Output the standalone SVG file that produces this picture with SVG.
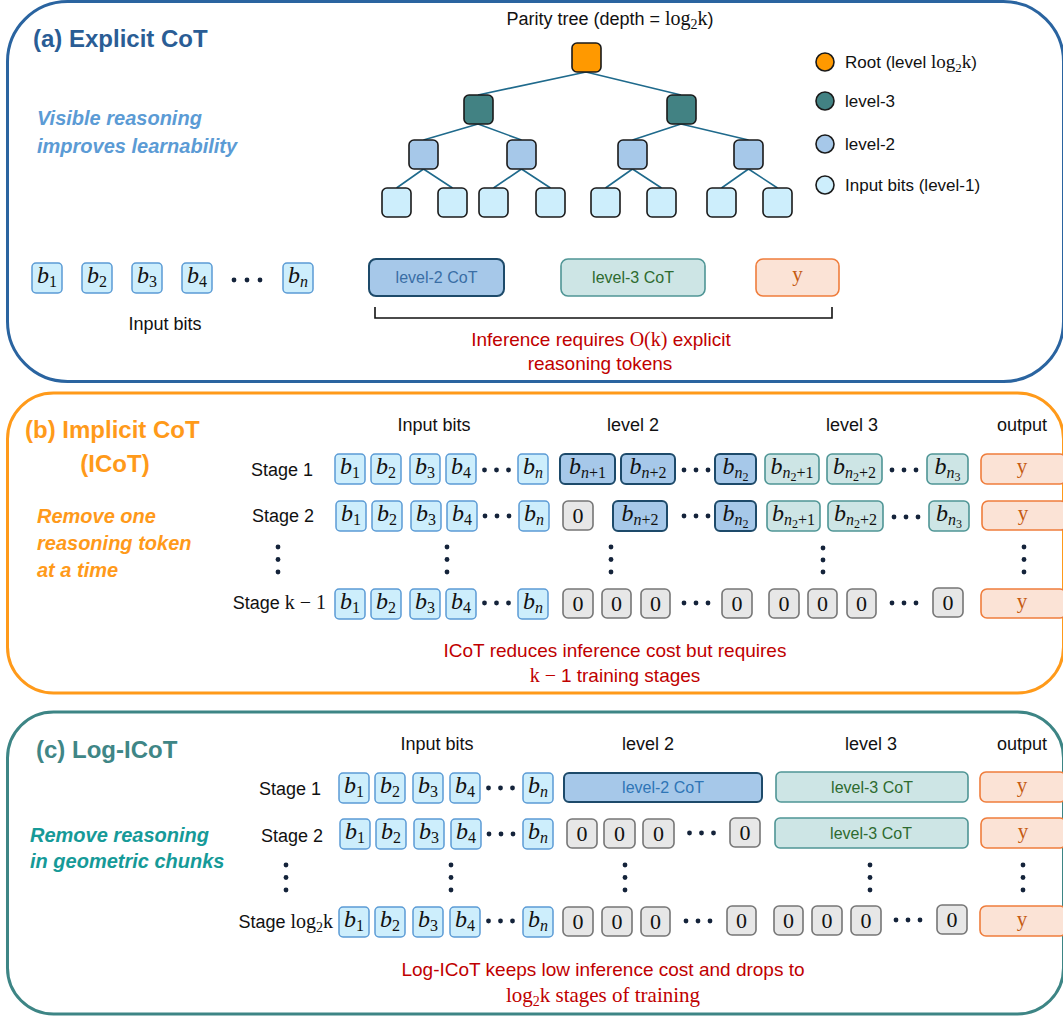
<svg xmlns="http://www.w3.org/2000/svg" width="1063" height="1016" viewBox="0 0 1063 1016">
<style>
text{font-family:"Liberation Sans",Arial,sans-serif;fill:#111}
.lbl{font-size:18px}
.stg{font-size:18px}
.ttl{font-size:24px;font-weight:bold}
.note{font-size:20px;font-weight:bold;font-style:italic}
.red{font-size:19px;fill:#c00000}
.srf{font-family:"Liberation Serif","DejaVu Serif",serif;font-style:normal}
.m{font-family:"Liberation Serif","DejaVu Serif",serif;font-style:italic;font-size:24px;fill:#111}
.si{font-size:16px;font-style:italic}
.s{font-size:16px;font-style:normal}
.ss{font-size:12px;font-style:normal}
.zt{font-family:"Liberation Serif","DejaVu Serif",serif;font-size:22px;fill:#111}
.yt{font-family:"Liberation Serif","DejaVu Serif",serif;font-size:21px;fill:#c55a11}
.ct{font-size:16px}
.in{fill:#cdeefc;stroke:#5b9bd5;stroke-width:1.5}
.l2{fill:#a6c8e9;stroke:#1d4a6a;stroke-width:2}
.l3{fill:#cde5e5;stroke:#4f9595;stroke-width:1.6}
.z{fill:#e7e7e7;stroke:#767676;stroke-width:1.6}
.out{fill:#fbe3d6;stroke:#ef7d3c;stroke-width:1.6}
.dot{fill:#14233a}
.edge{stroke:#1f6a8c;stroke-width:1.6;fill:none}
.tn{stroke:#1a1a1a;stroke-width:1.6}
</style>

<!-- Panels -->
<g id="panel-a">
<rect x="7.5" y="1.5" width="1056" height="380" rx="60" fill="none" stroke="#2a64a0" stroke-width="3"/>
<text class="ttl" x="33" y="47" style="fill:#2a5d95">(a) Explicit CoT</text>
<text class="note" x="37" y="125" style="fill:#5b9bd5">Visible reasoning</text>
<text class="note" x="37" y="153" style="fill:#5b9bd5">improves learnability</text>
<text class="lbl" x="610" y="25" text-anchor="middle">Parity tree (depth = <tspan class="srf" font-size="20">log</tspan><tspan class="srf" font-size="14" dy="4">2</tspan><tspan class="srf" font-size="20" dy="-4">k</tspan>)</text>
</g>
<g id="panel-b">
<rect x="7.5" y="393" width="1056" height="300" rx="46" fill="none" stroke="#ff9a1a" stroke-width="3"/>
<text class="ttl" x="25" y="438" style="fill:#ff9a1a">(b) Implicit CoT</text>
<text class="ttl" x="115" y="472" text-anchor="middle" style="fill:#ff9a1a">(ICoT)</text>
<text class="note" x="37" y="523" style="fill:#ff9a1a">Remove one</text>
<text class="note" x="37" y="550" style="fill:#ff9a1a">reasoning token</text>
<text class="note" x="37" y="577" style="fill:#ff9a1a">at a time</text>
</g>
<g id="panel-c">
<rect x="7.5" y="712" width="1056" height="302" rx="46" fill="none" stroke="#3d8585" stroke-width="3"/>
<text class="ttl" x="36" y="758" style="fill:#3f8686">(c) Log-ICoT</text>
<text class="note" x="30" y="842" style="fill:#169a98">Remove reasoning</text>
<text class="note" x="30" y="868" style="fill:#169a98">in geometric chunks</text>
</g>

<!-- Tree connectors -->
<g id="connectors">
<path class="edge" d="M586,72 L478,95 M586,72 L681,95
M478,124 L423.5,140 M478,124 L521.5,140
M681,124 L632.5,140 M681,124 L748.5,140
M423.5,169 L396.5,188 M423.5,169 L452.5,188
M521.5,169 L493.5,188 M521.5,169 L550.5,188
M632.5,169 L605.5,188 M632.5,169 L661.5,188
M748.5,169 L721.5,188 M748.5,169 L777.5,188"/>
</g>

<!-- Tree nodes -->
<g id="tree-root"><rect class="tn" x="572" y="43" width="29" height="29" rx="5" fill="#ff9900"/></g>
<g id="tree-l3-1"><rect class="tn" x="464" y="95" width="29" height="29" rx="5" fill="#428283"/></g>
<g id="tree-l3-2"><rect class="tn" x="667" y="95" width="29" height="29" rx="5" fill="#428283"/></g>
<g id="tree-l2-1"><rect class="tn" x="409" y="140" width="29" height="29" rx="5" fill="#a6c8e9"/></g>
<g id="tree-l2-2"><rect class="tn" x="507" y="140" width="29" height="29" rx="5" fill="#a6c8e9"/></g>
<g id="tree-l2-3"><rect class="tn" x="618" y="140" width="29" height="29" rx="5" fill="#a6c8e9"/></g>
<g id="tree-l2-4"><rect class="tn" x="734" y="140" width="29" height="29" rx="5" fill="#a6c8e9"/></g>
<g id="tree-leaves" fill="#cdeefc">
<rect class="tn" x="382" y="188" width="29" height="29" rx="5"/>
<rect class="tn" x="438" y="188" width="29" height="29" rx="5"/>
<rect class="tn" x="479" y="188" width="29" height="29" rx="5"/>
<rect class="tn" x="536" y="188" width="29" height="29" rx="5"/>
<rect class="tn" x="591" y="188" width="29" height="29" rx="5"/>
<rect class="tn" x="647" y="188" width="29" height="29" rx="5"/>
<rect class="tn" x="707" y="188" width="29" height="29" rx="5"/>
<rect class="tn" x="763" y="188" width="29" height="29" rx="5"/>
</g>

<!-- Legend -->
<g id="legend">
<circle class="tn" cx="825" cy="62" r="9" fill="#ff9900"/>
<circle class="tn" cx="825" cy="101" r="9" fill="#428283"/>
<circle class="tn" cx="825" cy="144" r="9" fill="#a6c8e9"/>
<circle class="tn" cx="825" cy="185" r="9" fill="#cdeefc"/>
<text class="lbl" x="845" y="68" style="font-size:17px">Root (level <tspan class="srf" font-size="19">log</tspan><tspan class="srf" font-size="13" dy="4">2</tspan><tspan class="srf" font-size="19" dy="-4">k</tspan>)</text>
<text class="lbl" x="845" y="107" style="font-size:17px">level-3</text>
<text class="lbl" x="845" y="150" style="font-size:17px">level-2</text>
<text class="lbl" x="845" y="191" style="font-size:17px">Input bits (level-1)</text>
</g>

<!-- Panel (a) sequence -->
<g id="a-inputs">
<rect class="in" x="32" y="263" width="30" height="30" rx="4"/><text class="m" x="47" y="283" text-anchor="middle">b<tspan class="s" dy="4">1</tspan></text>
<rect class="in" x="82" y="263" width="30" height="30" rx="4"/><text class="m" x="97" y="283" text-anchor="middle">b<tspan class="s" dy="4">2</tspan></text>
<rect class="in" x="132" y="263" width="30" height="30" rx="4"/><text class="m" x="147" y="283" text-anchor="middle">b<tspan class="s" dy="4">3</tspan></text>
<rect class="in" x="182" y="263" width="30" height="30" rx="4"/><text class="m" x="197" y="283" text-anchor="middle">b<tspan class="s" dy="4">4</tspan></text>
<circle class="dot" cx="234" cy="280" r="2.4"/><circle class="dot" cx="247" cy="280" r="2.4"/><circle class="dot" cx="260" cy="280" r="2.4"/>
<rect class="in" x="283" y="263" width="30" height="30" rx="4"/><text class="m" x="298" y="283" text-anchor="middle">b<tspan class="si" dy="4">n</tspan></text>
<text class="lbl" x="165" y="330" text-anchor="middle">Input bits</text>
</g>
<g id="a-level2"><rect class="l2" x="369" y="259" width="135" height="37" rx="7"/><text class="ct" x="436.5" y="283" text-anchor="middle" style="fill:#3a6ea5">level-2 CoT</text></g>
<g id="a-level3"><rect class="l3" x="561" y="259" width="144" height="37" rx="7"/><text class="ct" x="633" y="283" text-anchor="middle" style="fill:#2e6b30">level-3 CoT</text></g>
<g id="a-output"><rect class="out" x="756" y="259" width="83" height="37" rx="7"/><text class="yt" x="797.5" y="281" text-anchor="middle">y</text></g>
<g id="a-bracket"><path d="M375,307 V318 H832 V307" fill="none" stroke="#111" stroke-width="1.6"/></g>
<g id="a-note">
<text class="red" x="601" y="346" text-anchor="middle">Inference requires <tspan class="srf" font-size="20">O(k)</tspan> explicit</text>
<text class="red" x="600" y="370" text-anchor="middle">reasoning tokens</text>
</g>

<!-- Panel (b) -->
<g id="b-headers">
<text class="lbl" x="434" y="431" text-anchor="middle">Input bits</text>
<text class="lbl" x="633" y="431" text-anchor="middle">level 2</text>
<text class="lbl" x="852" y="431" text-anchor="middle">level 3</text>
<text class="lbl" x="1022" y="431" text-anchor="middle">output</text>
<text class="stg" x="313" y="476" text-anchor="end">Stage 1</text>
<text class="stg" x="314" y="522" text-anchor="end">Stage 2</text>
<text class="stg" x="326" y="609" text-anchor="end">Stage <tspan class="srf" font-size="20">k − 1</tspan></text>
</g>
<g id="b-row1">
<rect class="in" x="335" y="454" width="30" height="30" rx="4"/><text class="m" x="350" y="474" text-anchor="middle">b<tspan class="s" dy="4">1</tspan></text>
<rect class="in" x="371" y="454" width="30" height="30" rx="4"/><text class="m" x="386" y="474" text-anchor="middle">b<tspan class="s" dy="4">2</tspan></text>
<rect class="in" x="410" y="454" width="30" height="30" rx="4"/><text class="m" x="425" y="474" text-anchor="middle">b<tspan class="s" dy="4">3</tspan></text>
<rect class="in" x="446" y="454" width="30" height="30" rx="4"/><text class="m" x="461" y="474" text-anchor="middle">b<tspan class="s" dy="4">4</tspan></text>
<circle class="dot" cx="484.5" cy="470" r="2.4"/><circle class="dot" cx="496.5" cy="470" r="2.4"/><circle class="dot" cx="508.5" cy="470" r="2.4"/>
<rect class="in" x="518" y="454" width="30" height="30" rx="4"/><text class="m" x="533" y="474" text-anchor="middle">b<tspan class="si" dy="4">n</tspan></text>
<rect class="l2" x="560" y="454" width="55" height="30" rx="5"/><text class="m" x="587.5" y="474" text-anchor="middle">b<tspan class="si" dy="4">n</tspan><tspan class="s">+1</tspan></text>
<rect class="l2" x="621" y="454" width="54" height="30" rx="5"/><text class="m" x="648" y="474" text-anchor="middle">b<tspan class="si" dy="4">n</tspan><tspan class="s">+2</tspan></text>
<circle class="dot" cx="684" cy="470" r="2.4"/><circle class="dot" cx="696" cy="470" r="2.4"/><circle class="dot" cx="708" cy="470" r="2.4"/>
<rect class="l2" x="715" y="454" width="41" height="30" rx="5"/><text class="m" x="735.5" y="474" text-anchor="middle">b<tspan class="si" dy="4">n</tspan><tspan class="ss" dy="3">2</tspan></text>
<rect class="l3" x="765" y="454" width="54" height="30" rx="5"/><text class="m" x="792" y="474" text-anchor="middle">b<tspan class="si" dy="4">n</tspan><tspan class="ss" dy="3">2</tspan><tspan class="s" dy="-3">+1</tspan></text>
<rect class="l3" x="827" y="454" width="55" height="30" rx="5"/><text class="m" x="854.5" y="474" text-anchor="middle">b<tspan class="si" dy="4">n</tspan><tspan class="ss" dy="3">2</tspan><tspan class="s" dy="-3">+2</tspan></text>
<circle class="dot" cx="892" cy="470" r="2.4"/><circle class="dot" cx="904" cy="470" r="2.4"/><circle class="dot" cx="916" cy="470" r="2.4"/>
<rect class="l3" x="927" y="454" width="41" height="30" rx="5"/><text class="m" x="947.5" y="474" text-anchor="middle">b<tspan class="si" dy="4">n</tspan><tspan class="ss" dy="3">3</tspan></text>
<rect class="out" x="981" y="454" width="85" height="30" rx="6"/><text class="yt" x="1022" y="473" text-anchor="middle">y</text>
</g>
<g id="b-row2">
<rect class="in" x="336" y="501" width="30" height="30" rx="4"/><text class="m" x="351" y="521" text-anchor="middle">b<tspan class="s" dy="4">1</tspan></text>
<rect class="in" x="372" y="501" width="30" height="30" rx="4"/><text class="m" x="387" y="521" text-anchor="middle">b<tspan class="s" dy="4">2</tspan></text>
<rect class="in" x="411" y="501" width="30" height="30" rx="4"/><text class="m" x="426" y="521" text-anchor="middle">b<tspan class="s" dy="4">3</tspan></text>
<rect class="in" x="447" y="501" width="30" height="30" rx="4"/><text class="m" x="462" y="521" text-anchor="middle">b<tspan class="s" dy="4">4</tspan></text>
<circle class="dot" cx="485" cy="516" r="2.4"/><circle class="dot" cx="497" cy="516" r="2.4"/><circle class="dot" cx="509" cy="516" r="2.4"/>
<rect class="in" x="519" y="501" width="30" height="30" rx="4"/><text class="m" x="534" y="521" text-anchor="middle">b<tspan class="si" dy="4">n</tspan></text>
<rect class="z" x="563" y="501" width="30" height="29" rx="5"/><text class="zt" x="578" y="523" text-anchor="middle">0</text>
<rect class="l2" x="613" y="501" width="54" height="30" rx="5"/><text class="m" x="640" y="521" text-anchor="middle">b<tspan class="si" dy="4">n</tspan><tspan class="s">+2</tspan></text>
<circle class="dot" cx="684" cy="516" r="2.4"/><circle class="dot" cx="696" cy="516" r="2.4"/><circle class="dot" cx="708" cy="516" r="2.4"/>
<rect class="l2" x="715" y="501" width="41" height="30" rx="5"/><text class="m" x="735.5" y="521" text-anchor="middle">b<tspan class="si" dy="4">n</tspan><tspan class="ss" dy="3">2</tspan></text>
<rect class="l3" x="767" y="501" width="53" height="30" rx="5"/><text class="m" x="793.5" y="521" text-anchor="middle">b<tspan class="si" dy="4">n</tspan><tspan class="ss" dy="3">2</tspan><tspan class="s" dy="-3">+1</tspan></text>
<rect class="l3" x="828" y="501" width="55" height="30" rx="5"/><text class="m" x="855.5" y="521" text-anchor="middle">b<tspan class="si" dy="4">n</tspan><tspan class="ss" dy="3">2</tspan><tspan class="s" dy="-3">+2</tspan></text>
<circle class="dot" cx="894" cy="517" r="2.4"/><circle class="dot" cx="906" cy="517" r="2.4"/><circle class="dot" cx="918" cy="517" r="2.4"/>
<rect class="l3" x="929" y="501" width="40" height="30" rx="5"/><text class="m" x="949" y="521" text-anchor="middle">b<tspan class="si" dy="4">n</tspan><tspan class="ss" dy="3">3</tspan></text>
<rect class="out" x="982" y="501" width="85" height="29" rx="6"/><text class="yt" x="1023" y="520" text-anchor="middle">y</text>
</g>
<g id="b-vdots">
<circle class="dot" cx="278" cy="547" r="2.4"/><circle class="dot" cx="278" cy="559.5" r="2.4"/><circle class="dot" cx="278" cy="572" r="2.4"/>
<circle class="dot" cx="447" cy="547" r="2.4"/><circle class="dot" cx="447" cy="559.5" r="2.4"/><circle class="dot" cx="447" cy="572" r="2.4"/>
<circle class="dot" cx="611" cy="547" r="2.4"/><circle class="dot" cx="611" cy="559.5" r="2.4"/><circle class="dot" cx="611" cy="572" r="2.4"/>
<circle class="dot" cx="823" cy="548" r="2.4"/><circle class="dot" cx="823" cy="560" r="2.4"/><circle class="dot" cx="823" cy="572" r="2.4"/>
<circle class="dot" cx="1024" cy="547" r="2.4"/><circle class="dot" cx="1024" cy="559.5" r="2.4"/><circle class="dot" cx="1024" cy="572" r="2.4"/>
</g>
<g id="b-rowk">
<rect class="in" x="335" y="589" width="30" height="30" rx="4"/><text class="m" x="350" y="609" text-anchor="middle">b<tspan class="s" dy="4">1</tspan></text>
<rect class="in" x="371" y="589" width="30" height="30" rx="4"/><text class="m" x="386" y="609" text-anchor="middle">b<tspan class="s" dy="4">2</tspan></text>
<rect class="in" x="410" y="589" width="30" height="30" rx="4"/><text class="m" x="425" y="609" text-anchor="middle">b<tspan class="s" dy="4">3</tspan></text>
<rect class="in" x="446" y="589" width="30" height="30" rx="4"/><text class="m" x="461" y="609" text-anchor="middle">b<tspan class="s" dy="4">4</tspan></text>
<circle class="dot" cx="484.5" cy="603" r="2.4"/><circle class="dot" cx="496.5" cy="603" r="2.4"/><circle class="dot" cx="508.5" cy="603" r="2.4"/>
<rect class="in" x="518" y="589" width="30" height="30" rx="4"/><text class="m" x="533" y="609" text-anchor="middle">b<tspan class="si" dy="4">n</tspan></text>
<rect class="z" x="563" y="589" width="30" height="29" rx="5"/><text class="zt" x="578" y="611" text-anchor="middle">0</text>
<rect class="z" x="602" y="589" width="29" height="29" rx="5"/><text class="zt" x="616.5" y="611" text-anchor="middle">0</text>
<rect class="z" x="641" y="589" width="29" height="29" rx="5"/><text class="zt" x="655.5" y="611" text-anchor="middle">0</text>
<circle class="dot" cx="684" cy="603" r="2.4"/><circle class="dot" cx="696" cy="603" r="2.4"/><circle class="dot" cx="708" cy="603" r="2.4"/>
<rect class="z" x="722" y="589" width="30" height="29" rx="5"/><text class="zt" x="737" y="611" text-anchor="middle">0</text>
<rect class="z" x="769" y="589" width="30" height="29" rx="5"/><text class="zt" x="784" y="611" text-anchor="middle">0</text>
<rect class="z" x="808" y="589" width="29" height="29" rx="5"/><text class="zt" x="822.5" y="611" text-anchor="middle">0</text>
<rect class="z" x="847" y="589" width="29" height="29" rx="5"/><text class="zt" x="861.5" y="611" text-anchor="middle">0</text>
<circle class="dot" cx="892" cy="603" r="2.4"/><circle class="dot" cx="904" cy="603" r="2.4"/><circle class="dot" cx="916" cy="603" r="2.4"/>
<rect class="z" x="933" y="588" width="30" height="29" rx="5"/><text class="zt" x="948" y="610" text-anchor="middle">0</text>
<rect class="out" x="981" y="589" width="85" height="29" rx="6"/><text class="yt" x="1022" y="608" text-anchor="middle">y</text>
</g>
<g id="b-note">
<text class="red" x="615" y="657" text-anchor="middle">ICoT reduces inference cost but requires</text>
<text class="red" x="615" y="682" text-anchor="middle"><tspan class="srf" font-size="20">k − </tspan>1 training stages</text>
</g>

<!-- Panel (c) -->
<g id="c-headers">
<text class="lbl" x="437" y="750" text-anchor="middle">Input bits</text>
<text class="lbl" x="648" y="750" text-anchor="middle">level 2</text>
<text class="lbl" x="871" y="750" text-anchor="middle">level 3</text>
<text class="lbl" x="1022" y="750" text-anchor="middle">output</text>
<text class="stg" x="321" y="795" text-anchor="end">Stage 1</text>
<text class="stg" x="323" y="842" text-anchor="end">Stage 2</text>
<text class="stg" x="333" y="928" text-anchor="end">Stage <tspan class="srf" font-size="20">log</tspan><tspan class="srf" font-size="14" dy="4">2</tspan><tspan class="srf" font-size="20" dy="-4">k</tspan></text>
</g>
<g id="c-row1">
<rect class="in" x="339" y="773" width="30" height="30" rx="4"/><text class="m" x="354" y="793" text-anchor="middle">b<tspan class="s" dy="4">1</tspan></text>
<rect class="in" x="375" y="773" width="30" height="30" rx="4"/><text class="m" x="390" y="793" text-anchor="middle">b<tspan class="s" dy="4">2</tspan></text>
<rect class="in" x="413" y="773" width="30" height="30" rx="4"/><text class="m" x="428" y="793" text-anchor="middle">b<tspan class="s" dy="4">3</tspan></text>
<rect class="in" x="450" y="773" width="30" height="30" rx="4"/><text class="m" x="465" y="793" text-anchor="middle">b<tspan class="s" dy="4">4</tspan></text>
<circle class="dot" cx="488.5" cy="788" r="2.4"/><circle class="dot" cx="500.5" cy="788" r="2.4"/><circle class="dot" cx="512.5" cy="788" r="2.4"/>
<rect class="in" x="523" y="773" width="30" height="30" rx="4"/><text class="m" x="538" y="793" text-anchor="middle">b<tspan class="si" dy="4">n</tspan></text>
<rect class="l2" x="564" y="773" width="198" height="29" rx="5"/><text class="ct" x="663" y="793" text-anchor="middle" style="fill:#2e75b6">level-2 CoT</text>
<rect class="l3" x="776" y="772" width="192" height="30" rx="5"/><text class="ct" x="872" y="793" text-anchor="middle" style="fill:#2e6b30">level-3 CoT</text>
<rect class="out" x="980" y="772" width="86" height="30" rx="6"/><text class="yt" x="1022" y="792" text-anchor="middle">y</text>
</g>
<g id="c-row2">
<rect class="in" x="340" y="819" width="30" height="30" rx="4"/><text class="m" x="355" y="839" text-anchor="middle">b<tspan class="s" dy="4">1</tspan></text>
<rect class="in" x="376" y="819" width="30" height="30" rx="4"/><text class="m" x="391" y="839" text-anchor="middle">b<tspan class="s" dy="4">2</tspan></text>
<rect class="in" x="414" y="819" width="30" height="30" rx="4"/><text class="m" x="429" y="839" text-anchor="middle">b<tspan class="s" dy="4">3</tspan></text>
<rect class="in" x="451" y="819" width="30" height="30" rx="4"/><text class="m" x="466" y="839" text-anchor="middle">b<tspan class="s" dy="4">4</tspan></text>
<circle class="dot" cx="489" cy="834" r="2.4"/><circle class="dot" cx="501" cy="834" r="2.4"/><circle class="dot" cx="513" cy="834" r="2.4"/>
<rect class="in" x="523" y="819" width="30" height="30" rx="4"/><text class="m" x="538" y="839" text-anchor="middle">b<tspan class="si" dy="4">n</tspan></text>
<rect class="z" x="567" y="819" width="30" height="29" rx="5"/><text class="zt" x="582" y="841" text-anchor="middle">0</text>
<rect class="z" x="604" y="819" width="31" height="29" rx="5"/><text class="zt" x="619.5" y="841" text-anchor="middle">0</text>
<rect class="z" x="643" y="819" width="31" height="29" rx="5"/><text class="zt" x="658.5" y="841" text-anchor="middle">0</text>
<circle class="dot" cx="689.5" cy="833" r="2.4"/><circle class="dot" cx="701.5" cy="833" r="2.4"/><circle class="dot" cx="713.5" cy="833" r="2.4"/>
<rect class="z" x="730" y="818" width="30" height="29" rx="5"/><text class="zt" x="745" y="840" text-anchor="middle">0</text>
<rect class="l3" x="775" y="818" width="193" height="30" rx="5"/><text class="ct" x="871" y="839" text-anchor="middle" style="fill:#2e6b30">level-3 CoT</text>
<rect class="out" x="981" y="818" width="85" height="30" rx="6"/><text class="yt" x="1023" y="838" text-anchor="middle">y</text>
</g>
<g id="c-vdots">
<circle class="dot" cx="286" cy="865" r="2.4"/><circle class="dot" cx="286" cy="877.5" r="2.4"/><circle class="dot" cx="286" cy="890" r="2.4"/>
<circle class="dot" cx="451" cy="865" r="2.4"/><circle class="dot" cx="451" cy="877.5" r="2.4"/><circle class="dot" cx="451" cy="890" r="2.4"/>
<circle class="dot" cx="625" cy="865" r="2.4"/><circle class="dot" cx="625" cy="877.5" r="2.4"/><circle class="dot" cx="625" cy="890" r="2.4"/>
<circle class="dot" cx="870" cy="865" r="2.4"/><circle class="dot" cx="870" cy="877.5" r="2.4"/><circle class="dot" cx="870" cy="890" r="2.4"/>
<circle class="dot" cx="1023" cy="865" r="2.4"/><circle class="dot" cx="1023" cy="877.5" r="2.4"/><circle class="dot" cx="1023" cy="890" r="2.4"/>
</g>
<g id="c-rowlog">
<rect class="in" x="339" y="907" width="30" height="30" rx="4"/><text class="m" x="354" y="927" text-anchor="middle">b<tspan class="s" dy="4">1</tspan></text>
<rect class="in" x="375" y="907" width="30" height="30" rx="4"/><text class="m" x="390" y="927" text-anchor="middle">b<tspan class="s" dy="4">2</tspan></text>
<rect class="in" x="413" y="907" width="30" height="30" rx="4"/><text class="m" x="428" y="927" text-anchor="middle">b<tspan class="s" dy="4">3</tspan></text>
<rect class="in" x="450" y="907" width="30" height="30" rx="4"/><text class="m" x="465" y="927" text-anchor="middle">b<tspan class="s" dy="4">4</tspan></text>
<circle class="dot" cx="488.5" cy="921" r="2.4"/><circle class="dot" cx="500.5" cy="921" r="2.4"/><circle class="dot" cx="512.5" cy="921" r="2.4"/>
<rect class="in" x="523" y="907" width="30" height="30" rx="4"/><text class="m" x="538" y="927" text-anchor="middle">b<tspan class="si" dy="4">n</tspan></text>
<rect class="z" x="563" y="907" width="30" height="29" rx="5"/><text class="zt" x="578" y="929" text-anchor="middle">0</text>
<rect class="z" x="602" y="907" width="30" height="29" rx="5"/><text class="zt" x="617" y="929" text-anchor="middle">0</text>
<rect class="z" x="641" y="907" width="29" height="29" rx="5"/><text class="zt" x="655.5" y="929" text-anchor="middle">0</text>
<circle class="dot" cx="686" cy="921" r="2.4"/><circle class="dot" cx="698" cy="921" r="2.4"/><circle class="dot" cx="710" cy="921" r="2.4"/>
<rect class="z" x="727" y="906" width="29" height="29" rx="5"/><text class="zt" x="741.5" y="928" text-anchor="middle">0</text>
<rect class="z" x="774" y="906" width="29" height="29" rx="5"/><text class="zt" x="788.5" y="928" text-anchor="middle">0</text>
<rect class="z" x="812" y="906" width="30" height="29" rx="5"/><text class="zt" x="827" y="928" text-anchor="middle">0</text>
<rect class="z" x="851" y="906" width="30" height="29" rx="5"/><text class="zt" x="866" y="928" text-anchor="middle">0</text>
<circle class="dot" cx="896" cy="920" r="2.4"/><circle class="dot" cx="908" cy="920" r="2.4"/><circle class="dot" cx="920" cy="920" r="2.4"/>
<rect class="z" x="937" y="905" width="30" height="29" rx="5"/><text class="zt" x="952" y="927" text-anchor="middle">0</text>
<rect class="out" x="980" y="906" width="86" height="30" rx="6"/><text class="yt" x="1022" y="926" text-anchor="middle">y</text>
</g>
<g id="c-note">
<text class="red" x="603" y="976" text-anchor="middle">Log-ICoT keeps low inference cost and drops to</text>
<text class="red" x="603" y="1002" text-anchor="middle" style="font-family:'Liberation Serif',serif;font-size:21px">log<tspan font-size="14" dy="4">2</tspan><tspan dy="-4">k stages of training</tspan></text>
</g>
</svg>
